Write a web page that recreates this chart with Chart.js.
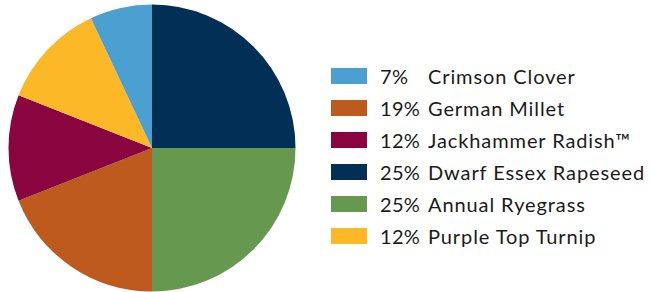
<!DOCTYPE html>
<html>
<head>
<meta charset="utf-8">
<script src="https://cdn.jsdelivr.net/npm/chart.js@4"></script>
<style>
  html,body{margin:0;padding:0;background:#fff;}
  body{width:651px;height:292px;position:relative;overflow:hidden;font-family:Lato,"Noto Sans",sans-serif;}
  #pieWrap{position:absolute;left:0;top:0;width:310px;height:292px;}
  #legend{position:absolute;left:331px;top:60px;margin:0;padding:0;list-style:none;}
  #legend li{position:relative;height:32px;line-height:32px;font-size:20px;color:#1b1b1b;white-space:nowrap;}
  #legend .sw{position:absolute;left:0;top:8px;width:36px;height:16px;}
  #legend .pct{position:absolute;left:49px;letter-spacing:0.3px;}
  #legend .name{position:absolute;left:97px;letter-spacing:0.9px;}
</style>
</head>
<body>
<div id="pieWrap"><canvas id="pie"></canvas></div>
<ul id="legend"></ul>
<script>
// slices in drawing order (clockwise from 12 o'clock)
const labels = ['Dwarf Essex Rapeseed','Annual Ryegrass','German Millet','Jackhammer Radish™','Purple Top Turnip','Crimson Clover'];
const values = [25, 25, 19, 12, 12, 7];
const colors = ['#022F55','#67984F','#BE5A1E','#8A0540','#FDB827','#4BA0D1'];
// order the legend lists them in
const legendOrder = ['Crimson Clover','German Millet','Jackhammer Radish™','Dwarf Essex Rapeseed','Annual Ryegrass','Purple Top Turnip'];

new Chart(document.getElementById('pie'), {
  type: 'pie',
  data: {
    labels: labels,
    datasets: [{ data: values, backgroundColor: colors, borderWidth: 0 }]
  },
  options: {
    responsive: true,
    maintainAspectRatio: false,
    animation: false,
    layout: { padding: { left: 8.5, right: 14.5, top: 4.5, bottom: 0.5 } },
    plugins: { legend: { display: false }, tooltip: { enabled: false } }
  }
});

const ul = document.getElementById('legend');
legendOrder.forEach(name=>{
  const i = labels.indexOf(name);
  const li = document.createElement('li');
  li.innerHTML = `<span class="sw" style="background:${colors[i]}"></span><span class="pct">${values[i]}%</span><span class="name">${name}</span>`;
  ul.appendChild(li);
});
</script>
</body>
</html>
